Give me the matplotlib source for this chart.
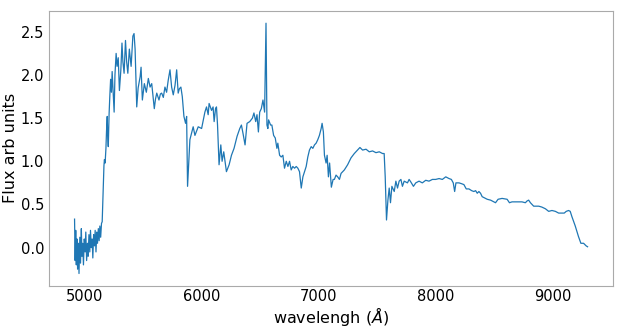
import matplotlib
matplotlib.use("Agg")
import matplotlib.pyplot as plt

# spectrum
wavelength = [
    4917, 4922, 4927, 4932, 4938, 4943, 4950, 4955, 4962, 4968, 4975, 4980,
    4987, 4993, 5000, 5007, 5013, 5020, 5027, 5033, 5040, 5047, 5053, 5060,
    5067, 5073, 5080, 5087, 5093, 5100, 5107, 5113, 5120, 5127, 5133, 5140,
    5147, 5153, 5160, 5168, 5172, 5178, 5185, 5190, 5196, 5200, 5205, 5212,
    5218, 5225, 5232, 5238, 5245, 5255, 5262, 5272, 5280, 5290, 5300, 5312,
    5322, 5330, 5340, 5352, 5362, 5372, 5385, 5400, 5415, 5425, 5434, 5448,
    5460, 5477, 5485, 5496, 5513, 5530, 5547, 5562, 5576, 5590, 5598, 5608,
    5619, 5638, 5650, 5661, 5675, 5689, 5703, 5717, 5732, 5746, 5760, 5775,
    5789, 5802, 5812, 5825, 5837, 5851, 5865,
    5874, 5882, 5902, 5930, 5945, 5973, 6002, 6030, 6044, 6058, 6066, 6087,
    6100, 6109, 6121, 6129, 6138, 6151, 6166, 6177, 6191, 6214, 6237, 6257,
    6279, 6305, 6328, 6342, 6356, 6373, 6390, 6413, 6436, 6449, 6464, 6475,
    6487, 6498, 6512, 6526, 6540, 6552, 6560, 6568, 6574, 6591, 6602, 6617,
    6631, 6645, 6653, 6668, 6682, 6696, 6710, 6725, 6739, 6753, 6767, 6781,
    6796, 6810, 6824, 6838, 6853, 6867, 6881, 6895, 6909, 6923, 6938, 6952,
    6966, 6980, 6994, 7008, 7023, 7031, 7042, 7051, 7065, 7074, 7085, 7095,
    7110, 7125, 7136, 7150, 7164, 7179, 7193, 7221, 7249, 7278, 7306, 7334,
    7354, 7377, 7406, 7434, 7462, 7491, 7519, 7547, 7561, 7570, 7581, 7593,
    7604, 7615, 7627, 7647, 7661, 7675, 7689, 7704, 7717, 7732, 7760, 7774,
    7789, 7811, 7831, 7859, 7887, 7916, 7944, 7973, 8001, 8030, 8058, 8087,
    8115, 8135, 8151, 8163, 8174, 8200, 8223, 8242, 8262, 8285, 8308, 8327,
    8342, 8356, 8370, 8384, 8398, 8413, 8441, 8470, 8498, 8512, 8534, 8568,
    8611, 8631, 8653, 8696, 8738, 8767, 8781, 8795, 8810, 8838, 8881, 8907,
    8938, 8966, 8994, 9023, 9051, 9079, 9099, 9116, 9136, 9150, 9164, 9193,
    9220, 9241, 9264, 9286, 9298,
]
flux = [
    0.33, -0.15, 0.20, -0.20, 0.10, -0.25, 0.05, -0.30, 0.12, -0.18, 0.22, -0.10,
    0.05, -0.20, 0.10, -0.05, 0.18, -0.15, 0.05, -0.10, 0.15, -0.05, 0.20, 0.00,
    0.10, -0.12, 0.15, 0.02, 0.20, -0.05, 0.18, 0.05, 0.22, 0.08, 0.25, 0.12,
    0.28, 0.30, 0.62, 0.95, 1.02, 0.98, 1.15, 1.35, 1.52, 1.30, 1.17, 1.55,
    1.75, 1.95, 1.80, 2.04, 1.85, 1.57, 2.00, 2.25, 2.10, 2.20, 1.82, 2.05,
    2.37, 2.15, 2.02, 2.40, 2.15, 2.02, 2.30, 2.10, 2.45, 2.48, 2.30, 1.63,
    1.85, 1.98, 2.09, 1.71, 1.90, 1.80, 1.96, 1.86, 1.90, 1.71, 1.61, 1.72,
    1.79, 1.71, 1.78, 1.79, 1.74, 1.86, 1.80, 1.94, 2.06, 1.86, 1.77, 1.88,
    2.06, 1.79, 1.84, 1.86, 1.75, 1.52, 1.44,
    1.52, 0.71, 1.25, 1.40, 1.30, 1.40, 1.38, 1.57, 1.63, 1.54, 1.67, 1.59,
    1.63, 1.46, 1.61, 1.63, 1.42, 0.96, 1.19, 1.00, 1.11, 0.88, 0.96, 1.07,
    1.15, 1.29, 1.38, 1.42, 1.32, 1.19, 1.44, 1.46, 1.50, 1.56, 1.46, 1.54,
    1.34, 1.57, 1.61, 1.71, 1.57, 2.60, 1.42, 1.38, 1.48, 1.42, 1.42, 1.30,
    1.27, 1.15, 1.21, 1.07, 1.05, 1.07, 0.92, 1.00, 0.94, 1.00, 0.90, 0.94,
    0.92, 0.94, 0.92, 0.88, 0.69, 0.82, 0.88, 0.94, 1.05, 1.13, 1.17, 1.15,
    1.19, 1.21, 1.25, 1.30, 1.38, 1.44, 1.34, 1.07, 0.98, 1.07, 0.82, 0.98,
    0.70, 0.79, 0.79, 0.84, 0.82, 0.79, 0.86, 0.90, 0.96, 1.04, 1.09, 1.13,
    1.16, 1.13, 1.14, 1.11, 1.12, 1.10, 1.11, 1.09, 1.09, 0.82, 0.32, 0.55,
    0.69, 0.52, 0.71, 0.65, 0.77, 0.69, 0.77, 0.79, 0.71, 0.77, 0.75, 0.79,
    0.76, 0.71, 0.75, 0.77, 0.75, 0.78, 0.77, 0.79, 0.79, 0.80, 0.79, 0.82,
    0.80, 0.79, 0.75, 0.65, 0.75, 0.75, 0.74, 0.73, 0.68, 0.68, 0.66, 0.65,
    0.66, 0.63, 0.65, 0.63, 0.59, 0.58, 0.56, 0.55, 0.53, 0.52, 0.56, 0.57,
    0.56, 0.52, 0.53, 0.53, 0.53, 0.52, 0.54, 0.55, 0.52, 0.48, 0.48, 0.47,
    0.45, 0.42, 0.43, 0.42, 0.40, 0.40, 0.40, 0.42, 0.43, 0.42, 0.36, 0.25,
    0.13, 0.05, 0.05, 0.02, 0.01,
]

plt.rcParams.update({
    "font.family": "DejaVu Sans",
    "font.size": 11,
    "axes.labelsize": 11.5,
    "xtick.labelsize": 10.5,
    "ytick.labelsize": 10.5,
})

fig = plt.figure(figsize=(6.27, 3.3), dpi=100)
ax = fig.add_axes([0.078, 0.1333, 0.900, 0.8343])

ax.plot(wavelength, flux, color="#1f77b4", linewidth=0.9)

ax.set_xlabel(r"wavelengh ($\AA$)", labelpad=0.5)
ax.set_ylabel("Flux arb units", labelpad=2)

for side in ax.spines:
    ax.spines[side].set_color("#aaaaaa")
ax.tick_params(axis="x", length=0, pad=2.5)
ax.tick_params(axis="y", length=0, pad=3.5)

fig.savefig("out.png", dpi=100)
